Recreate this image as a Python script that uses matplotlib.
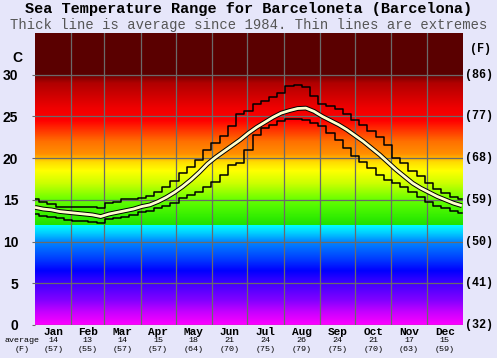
import numpy as np
import matplotlib
matplotlib.use("Agg")
import matplotlib.pyplot as plt
import matplotlib.transforms as mtransforms

# weekly values (day 0, 7, 14, ... 364), deg C
week_days = list(range(0, 365, 7))
avg_temp = [14.1, 13.9, 13.8, 13.6, 13.5, 13.4, 13.3, 13.2, 13.0, 13.3,
            13.5, 13.7, 13.9, 14.2, 14.4, 14.8, 15.3, 15.9, 16.6, 17.4,
            18.3, 19.3, 20.1, 20.8, 21.5, 22.2, 23.0, 23.7, 24.3, 24.9,
            25.4, 25.7, 25.95, 26.0, 25.6, 25.0, 24.5, 24.0, 23.4, 22.7,
            22.0, 21.2, 20.4, 19.5, 18.6, 17.8, 17.0, 16.4, 15.9, 15.4,
            15.0, 14.6, 14.3]
max_temp = [15.1, 14.7, 14.5, 14.2, 14.1, 14.1, 14.1, 14.2, 14.0, 14.6,
            14.8, 15.1, 15.1, 15.2, 15.5, 15.9, 16.6, 17.3, 18.2, 18.9,
            19.8, 21.0, 21.8, 22.6, 23.8, 25.3, 25.6, 26.5, 26.8, 27.3,
            27.8, 28.7, 28.8, 28.5, 27.5, 26.5, 26.2, 25.9, 25.3, 24.6,
            24.0, 23.3, 22.5, 21.6, 20.0, 19.4, 18.5, 17.8, 17.0, 16.3,
            15.8, 15.4, 15.1]
min_temp = [13.3, 13.1, 12.9, 12.8, 12.6, 12.5, 12.5, 12.4, 12.2, 12.7,
            12.8, 13.0, 13.2, 13.5, 13.7, 14.0, 14.3, 14.6, 15.2, 15.6,
            16.0, 16.5, 17.2, 18.0, 19.2, 19.4, 21.0, 22.8, 23.6, 24.0,
            24.5, 24.7, 24.7, 24.6, 24.2, 23.8, 23.0, 22.2, 21.2, 20.2,
            19.5, 18.8, 18.0, 17.4, 17.0, 16.5, 16.0, 15.4, 14.8, 14.3,
            14.0, 13.7, 13.4]

months = ["Jan", "Feb", "Mar", "Apr", "May", "Jun",
          "Jul", "Aug", "Sep", "Oct", "Nov", "Dec"]
month_avg_c = [14, 13, 14, 15, 18, 21, 24, 26, 24, 21, 17, 15]
month_avg_f = [57, 55, 57, 57, 64, 70, 75, 79, 75, 70, 63, 59]
month_edges = [0, 31, 59, 90, 120, 151, 181, 212, 243, 273, 304, 334, 365]

c_ticks = [0, 5, 10, 15, 20, 25, 30]
f_labels = ["(32)", "(41)", "(50)", "(59)", "(68)", "(77)", "(86)"]

# background colour scale by temperature
bg_stops = [(0, "#ff00ff"), (1.5, "#c800ff"), (3, "#8000ff"), (5, "#4000ff"),
            (6.5, "#0000ff"), (8, "#0040ff"), (10, "#0088ff"), (11, "#00ccff"),
            (11.99, "#00ffff"), (12.0, "#20e000"), (13, "#33ee00"),
            (15, "#66ff00"), (17, "#ccff00"), (18.5, "#ffff00"),
            (19.5, "#ffdd00"), (20.5, "#ff9000"), (22, "#ff7000"),
            (24.5, "#ff0000"), (26, "#f00000"), (27.5, "#d00000"),
            (29, "#b00000"), (29.99, "#700000"), (30.0, "#5a0000"),
            (35, "#5a0000")]

bg = "#e6e6fa"
mono = "Liberation Mono"
sans = "Liberation Sans"

fig = plt.figure(figsize=(4.97, 3.58), dpi=100, facecolor=bg)
ax = fig.add_axes([35 / 497, 33 / 358, 428 / 497, 292 / 358])

t = np.linspace(0, 35, 1400)
sv = [s[0] for s in bg_stops]
rgb = np.array([matplotlib.colors.to_rgb(s[1]) for s in bg_stops])
img = np.stack([np.interp(t, sv, rgb[:, k]) for k in range(3)], axis=-1)
ax.imshow(img[:, None, :], extent=[0, 365, 0, 35], origin="lower",
          aspect="auto", interpolation="nearest", zorder=0)

ax.set_xlim(0, 365)
ax.set_ylim(0, 35)
for s in ax.spines.values():
    s.set_visible(False)

ax.set_xticks(month_edges[1:-1])
ax.set_xticklabels([])
ax.set_yticks(c_ticks)
ax.set_yticklabels([str(v) for v in c_ticks], fontfamily=sans,
                   fontweight="bold", fontsize=10)
ax.tick_params(axis="x", length=0)
ax.tick_params(axis="y", length=2, color="#6a6a6a", pad=10)
ax.grid(True, color="#6a6a6a", lw=0.9, zorder=1)
ax.set_axisbelow(False)

ax.plot(week_days, max_temp, drawstyle="steps-mid", color="black", lw=1.1, zorder=3)
ax.plot(week_days, min_temp, drawstyle="steps-mid", color="black", lw=1.1, zorder=3)
ax.plot(week_days, avg_temp, color="black", lw=3.4, zorder=4, solid_capstyle="butt")
ax.plot(week_days, avg_temp, color="#ffffcc", lw=2.0, zorder=5, solid_capstyle="butt")

fig.text(0.5, 1 - 9 / 358, "Sea Temperature Range for Barceloneta (Barcelona)",
         ha="center", va="center", fontfamily=mono, fontweight="bold", fontsize=11)
fig.text(0.5, 1 - 25 / 358, "Thick line is average since 1984. Thin lines are extremes",
         ha="center", va="center", fontfamily=mono, fontsize=10, color="#555555")

# units
fig.text(22 / 497, 1 - 58 / 358, "C", ha="right", va="center",
         fontfamily=sans, fontweight="bold", fontsize=10)
fig.text(481 / 497, 1 - 49 / 358, "(F)", ha="center", va="center",
         fontfamily=mono, fontweight="bold", fontsize=8.5)

tr_right = mtransforms.blended_transform_factory(fig.transFigure, ax.transData)
for v, lab in zip(c_ticks, f_labels):
    ax.text(465 / 497, v, lab, transform=tr_right, ha="left", va="center",
            fontfamily=mono, fontweight="bold", fontsize=8.5)

# bottom labels: month / average C / average F
tr_bot = mtransforms.blended_transform_factory(ax.transData, fig.transFigure)
for i, m in enumerate(months):
    xc = (month_edges[i] + month_edges[i + 1]) / 2
    ax.text(xc, 1 - 335 / 358, m, transform=tr_bot, ha="center", va="baseline",
            fontfamily=mono, fontweight="bold", fontsize=8)
    ax.text(xc, 1 - 342.5 / 358, str(month_avg_c[i]), transform=tr_bot,
            ha="center", va="baseline", fontfamily=mono, fontsize=6)
    ax.text(xc, 1 - 351 / 358, "(%d)" % month_avg_f[i], transform=tr_bot,
            ha="center", va="baseline", fontfamily=mono, fontsize=6)

fig.text(22 / 497, 1 - 342.5 / 358, "average", ha="center", va="baseline",
         fontfamily=mono, fontsize=6)
fig.text(22 / 497, 1 - 351 / 358, "(F)", ha="center", va="baseline",
         fontfamily=mono, fontsize=6)

fig.savefig("out.png", dpi=100, facecolor=bg)
